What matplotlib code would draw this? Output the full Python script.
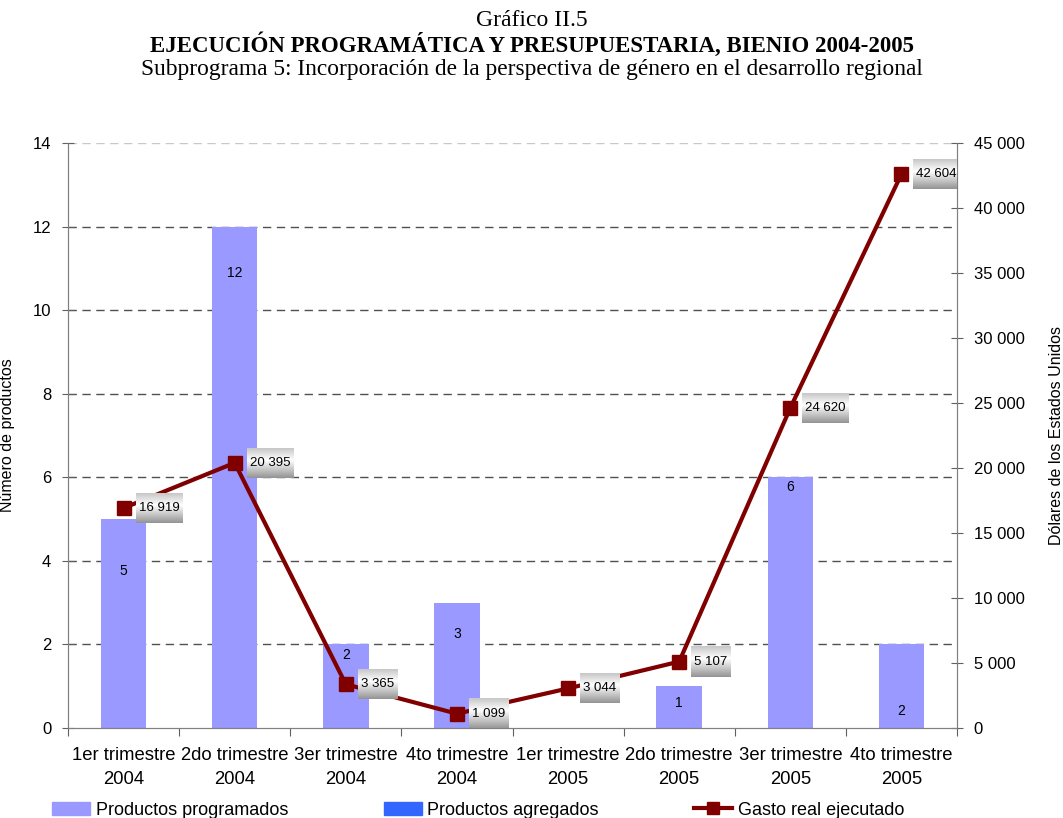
import numpy as np
import matplotlib
matplotlib.use("Agg")
import matplotlib.pyplot as plt
from matplotlib.patches import Patch
from matplotlib.lines import Line2D
from matplotlib.ticker import FuncFormatter, FixedLocator

plt.rcParams["font.family"] = ["Liberation Sans", "DejaVu Sans"]

categories = ["1er trimestre\n2004", "2do trimestre\n2004", "3er trimestre\n2004",
              "4to trimestre\n2004", "1er trimestre\n2005", "2do trimestre\n2005",
              "3er trimestre\n2005", "4to trimestre\n2005"]
programados = [5, 12, 2, 3, 0, 1, 6, 2]
agregados = [0, 0, 0, 0, 0, 0, 0, 0]
gasto = [16919, 20395, 3365, 1099, 3044, 5107, 24620, 42604]
# where the bar numbers sit (left axis units)
label_pos = [3.76, 10.89, 1.75, 2.25, None, 0.6, 5.77, 0.41]

bar_col = "#9999FF"
agr_col = "#3366FF"
line_col = "#800000"

fig = plt.figure(figsize=(10.63, 8.18), dpi=100)
ax = fig.add_axes([68 / 1063, 90 / 818, 889 / 1063, 585 / 818])
ax2 = ax.twinx()

x = np.arange(len(categories))
ax.bar(x, programados, width=0.41, color=bar_col, zorder=2)
ax.bar(x, agregados, width=0.41, bottom=programados, color=agr_col, zorder=2)
for i, v in enumerate(programados):
    if v > 0 and label_pos[i] is not None:
        ax.text(x[i], label_pos[i], str(v), ha="center", va="center", fontsize=10, zorder=3)

ax.set_xlim(-0.5, len(categories) - 0.5)
ax.set_ylim(0, 14)
ax.set_yticks(range(0, 15, 2))
for yv in range(2, 15, 2):
    ax.axhline(yv, color="#c8c8c8" if yv == 14 else "#505050", lw=1,
               ls=(0, (6, 4)), zorder=1)

ax.xaxis.set_major_locator(FixedLocator(np.arange(-0.5, len(categories), 1)))
ax.xaxis.set_minor_locator(FixedLocator(x))
ax.set_xticklabels([""] * (len(categories) + 1))
ax.set_xticklabels(categories, minor=True, fontsize=13.3, linespacing=1.5)
ax.tick_params(axis="x", which="major", length=6, color="#606060")
ax.tick_params(axis="x", which="minor", length=0, pad=14)
ax.tick_params(axis="y", labelsize=12, direction="inout", length=8, color="#606060", pad=8)

for a in (ax, ax2):
    a.spines["top"].set_visible(False)
    for s in ("left", "right", "bottom"):
        a.spines[s].set_color("#808080")

ax2.plot(x, gasto, color=line_col, lw=3, marker="s", markersize=10,
         markeredgecolor=line_col, zorder=3)
ax2.set_ylim(0, 45000)
ax2.set_yticks(range(0, 45001, 5000))
ax2.yaxis.set_major_formatter(FuncFormatter(lambda v, p: f"{int(v):,}".replace(",", " ")))
ax2.tick_params(axis="y", labelsize=12, direction="inout", length=8, color="#606060", pad=8)

ax.set_ylabel("Número de productos", fontsize=11.5)
ax.yaxis.set_label_coords(-53 / 889, 0.5)
ax2.set_ylabel("Dólares de los Estados Unidos", fontsize=11.5, rotation=90, va="center")
ax2.yaxis.set_label_coords(988 / 889, 0.5)

fig.text(0.5, 1 - 20 / 818, "Gráfico II.5", ha="center", va="center",
         family="Liberation Serif", fontsize=17)
fig.text(0.5, 1 - 45 / 818, "EJECUCIÓN PROGRAMÁTICA Y PRESUPUESTARIA, BIENIO 2004-2005",
         ha="center", va="center", family="Liberation Serif", fontsize=16.5, weight="bold")
fig.text(0.5, 1 - 70 / 818,
         "Subprograma 5: Incorporación de la perspectiva de género en el desarrollo regional",
         ha="center", va="center", family="Liberation Serif", fontsize=16.8)

# value labels with grey gradient boxes
labels = []
for i, v in enumerate(gasto):
    t = ax2.annotate(f"{v:,}".replace(",", " "), (x[i], v), xytext=(15 * 0.72, 0),
                     textcoords="offset points", ha="left", va="center",
                     fontsize=9.5, zorder=5)
    labels.append(t)

fig.canvas.draw()
r = fig.canvas.get_renderer()
grad = np.interp(np.linspace(0, 1, 64), [0, 0.4, 1], [0.78, 1.0, 0.58])
img = np.repeat(grad[:, None], 4, axis=1)
img = np.stack([img, img, img], axis=2)
inv = ax2.transData.inverted()
for t in labels:
    bb = t.get_window_extent(r)
    cy = (bb.y0 + bb.y1) / 2
    x0, y0 = inv.transform((bb.x0 - 3, cy - 15))
    x1, y1 = inv.transform((bb.x1 + 3, cy + 15))
    ax2.imshow(img, extent=(x0, x1, y0, y1), aspect="auto", origin="upper",
               zorder=4, interpolation="bilinear")
ax2.set_xlim(-0.5, len(categories) - 0.5)
ax2.set_ylim(0, 45000)

handles = [Patch(color=bar_col), Patch(color=agr_col),
           Line2D([], [], color=line_col, lw=3, marker="s", markersize=9)]
fig.legend(handles, ["Productos programados", "Productos agregados", "Gasto real ejecutado"],
           loc="lower left", bbox_to_anchor=(36 / 1063, -17 / 818), ncol=3, frameon=False,
           fontsize=13, handlelength=2.1, handleheight=0.7, handletextpad=0.3,
           columnspacing=5.3)

fig.savefig("out.png", dpi=100)
